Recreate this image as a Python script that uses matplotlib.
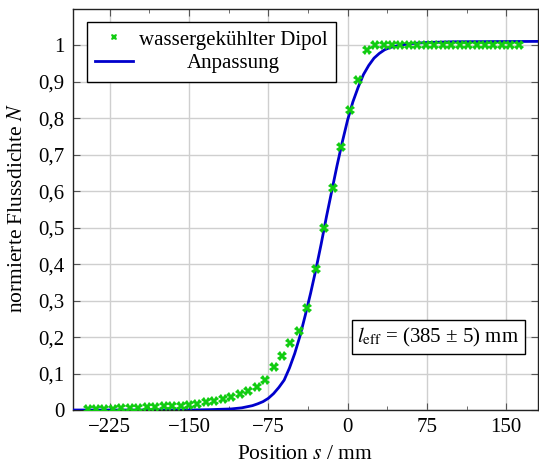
import matplotlib
matplotlib.use("Agg")
import matplotlib.pyplot as plt
import matplotlib.transforms as mtransforms
import numpy as np

plt.rcParams["font.family"] = "Liberation Serif"
plt.rcParams["mathtext.fontset"] = "stix"

# Messpunkte: wassergekühlter Dipol (Abstand 8 mm)
pos_mm = np.arange(-246, 163, 8)
flux = [0.002, 0.002, 0.003, 0.003, 0.005, 0.005, 0.006, 0.007, 0.008, 0.010,
        0.011, 0.012, 0.014, 0.017, 0.021, 0.024, 0.029, 0.036, 0.045, 0.053,
        0.062, 0.082, 0.117, 0.149, 0.183, 0.216, 0.279, 0.388, 0.499, 0.610,
        0.720, 0.822, 0.905, 0.988, 1.0, 1.0, 1.0, 1.0, 1.0, 1.0,
        1.0, 1.0, 1.0, 1.0, 1.0, 1.0, 1.0, 1.0, 1.0, 1.0,
        1.0, 1.0]

# Anpassungskurve
fit_x = [-260, -150, -130, -120, -110, -100, -95, -90, -85, -80, -75, -70, -65,
         -60, -55, -50, -45, -40, -35, -30, -25, -20, -15, -10, -5, 0, 5, 10,
         15, 20, 25, 30, 35, 40, 50, 60, 75, 100, 180]
fit_y = [0.0, 0.0, 0.001, 0.002, 0.003, 0.006, 0.009, 0.012, 0.017, 0.023,
         0.032, 0.045, 0.062, 0.082, 0.115, 0.155, 0.203, 0.260, 0.320, 0.385,
         0.455, 0.530, 0.600, 0.670, 0.735, 0.795, 0.845, 0.885, 0.920, 0.945,
         0.965, 0.978, 0.988, 0.994, 1.001, 1.005, 1.008, 1.010, 1.011]

xticks = [-225, -150, -75, 0, 75, 150]
yticks = [0, 0.1, 0.2, 0.3, 0.4, 0.5, 0.6, 0.7, 0.8, 0.9, 1.0]
yticklabels = ["0", "0,1", "0,2", "0,3", "0,4", "0,5", "0,6", "0,7", "0,8", "0,9", "1"]

fig = plt.figure(figsize=(5.39, 4.68), dpi=100)
ax = fig.add_axes([0.1349, 0.1239, 0.863, 0.857])

ax.plot(fit_x, fit_y, color="#0000cc", lw=2.0, label="Anpassung", zorder=3)
ax.plot(pos_mm, flux, ls="none", marker="X", ms=6.5, color="#11cc11",
        markeredgewidth=0, label="wassergekühlter Dipol", zorder=4)

ax.set_xlim(-260, 180)
ax.set_ylim(0, 1.1)
ax.set_xticks(xticks)
ax.set_xticklabels([str(t).replace("-", "\u2212") for t in xticks])
ax.set_xticks(np.arange(-262.5, 180, 37.5)[1:], minor=True)
ax.set_yticks(yticks)
ax.set_yticklabels(yticklabels)

ax.grid(True, which="major", color="#cfcfcf", lw=1.0, zorder=0)
ax.set_axisbelow(True)
ax.tick_params(axis="both", which="both", direction="in", top=True, right=True,
               labelsize=15, color="#555555", pad=6)
ax.tick_params(which="major", length=5)
ax.tick_params(which="minor", length=3)
for sp in ax.spines.values():
    sp.set_color("#222222")
    sp.set_linewidth(1.0)

ax.set_xlabel("Position $s$ / mm", fontsize=15.5)
ax.set_ylabel("normierte Flussdichte $N$", fontsize=15.5)
ax.xaxis.set_label_coords(0.499, -0.088)
ax.yaxis.set_label_coords(-0.098, 0.504)

handles, labels = ax.get_legend_handles_labels()
leg = ax.legend(handles[::-1], labels[::-1], loc="upper left",
                bbox_to_anchor=(0.031, 0.968), borderaxespad=0, fontsize=15,
                fancybox=False, framealpha=1, edgecolor="black",
                handlelength=1.8, handletextpad=0.3, borderpad=0.4,
                labelspacing=0.2, markerscale=0.75)
leg.get_frame().set_linewidth(1.0)

ax.text(86, 0.2, r"$l_{\mathrm{eff}}$ = (385 ± 5) mm", fontsize=15,
        ha="center", va="center", zorder=5,
        bbox=dict(boxstyle="square,pad=0.25", fc="white", ec="black", lw=1.0))

# Legendentexte zentrieren
fig.canvas.draw()
texts = leg.get_texts()
widths = [t.get_window_extent().width for t in texts]
wmax = max(widths)
for t, w in zip(texts, widths):
    dx = (wmax - w) / 2
    t.set_transform(t.get_transform() + mtransforms.Affine2D().translate(dx, 0))

fig.savefig("out.png", dpi=100)
